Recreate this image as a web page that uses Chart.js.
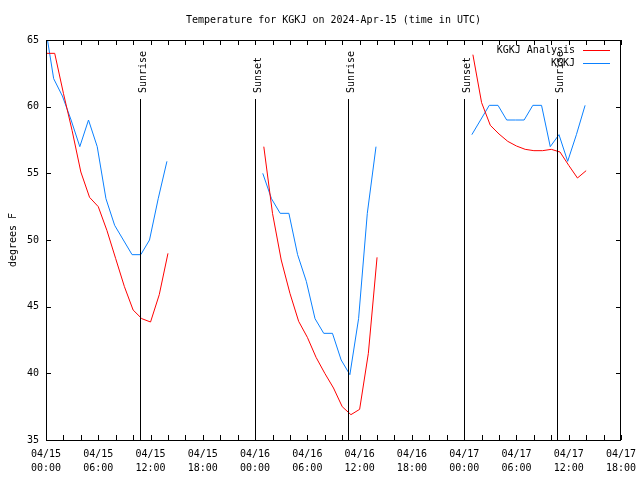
<!DOCTYPE html>
<html><head><meta charset="utf-8">
<script src="https://cdn.jsdelivr.net/npm/chart.js@4/dist/chart.umd.min.js"></script>
<style>html,body{margin:0;padding:0;background:#fff}</style>
</head><body>
<canvas id="c" width="640" height="480"></canvas>
<script>
const titleText = 'Temperature for KGKJ on 2024-Apr-15 (time in UTC)';
const yAxisTitle = 'degrees F';
const seriesNames = ['KGKJ Analysis', 'KGKJ'];
const seriesColors = ['#ff0000', '#0a80ff'];

// hours since 2024-04-15 00:00 UTC
const analysisHours = [0,1,2,3,4,5,6,7,8,9,10,11,12,13,14,
  25,26,27,28,29,30,31,32,33,34,35,36,37,38,
  49,50,51,52,53,54,55,56,57,58,59,60,61,62];
const analysisTemps = [64.0,64.0,61.0,58.2,55.1,53.2,52.5,50.7,48.6,46.5,44.75,44.1,43.85,45.9,49.0,
  57.0,52.0,48.5,46.0,43.9,42.7,41.2,40.0,38.9,37.5,36.9,37.3,41.5,48.7,
  63.9,60.3,58.6,57.95,57.4,57.05,56.8,56.7,56.7,56.8,56.6,55.6,54.65,55.2];

const obsHours = [-0.12,0.88,1.88,2.88,3.88,4.88,5.88,6.88,7.88,8.88,9.88,10.88,11.88,12.88,13.88,
  24.88,25.88,26.88,27.88,28.88,29.88,30.88,31.88,32.88,33.88,34.88,35.88,36.88,37.88,
  48.88,49.88,50.88,51.88,52.88,53.88,54.88,55.88,56.88,57.88,58.88,59.88,60.88,61.88];
const obsTemps = [66.2,62.1,60.8,59.0,57.0,59.0,57.0,53.1,51.1,50.0,48.9,48.9,50.0,53.1,55.9,
  55.0,53.1,52.0,52.0,48.9,46.9,44.1,43.0,43.0,41.0,39.9,44.1,52.0,57.0,
  57.9,59.0,60.1,60.1,59.0,59.0,59.0,60.1,60.1,57.0,57.9,55.9,57.9,60.1];

const tickDates = ['04/15','04/15','04/15','04/15','04/16','04/16','04/16','04/16','04/17','04/17','04/17','04/17'];
const tickTimes = ['00:00','06:00','12:00','18:00','00:00','06:00','12:00','18:00','00:00','06:00','12:00','18:00'];

const sunLabels = ['Sunrise','Sunset','Sunrise','Sunset','Sunrise'];
const sunHours = [10.78, 24.0, 34.72, 48.0, 58.68];

const FONT = "'DejaVu Sans Mono', 'Liberation Mono', monospace";

function buildPoints(hours, temps) {
  const pts = [];
  for (let i = 0; i < hours.length; i++) {
    if (i > 0 && hours[i] - hours[i-1] > 2) pts.push({x: (hours[i] + hours[i-1]) / 2, y: null});
    pts.push({x: hours[i], y: temps[i]});
  }
  return pts;
}

const framePlugin = {
  id: 'frame',
  afterDatasetsDraw(chart) {
    const {ctx, chartArea: a, scales: {x, y}} = chart;
    ctx.save();
    ctx.strokeStyle = '#000';
    ctx.lineWidth = 1;
    ctx.strokeRect(Math.round(a.left) + 0.5, Math.round(a.top) + 0.5,
      Math.round(a.right - a.left) - 1, Math.round(a.bottom - a.top));
    const tl = 5;
    ctx.beginPath();
    x.ticks.forEach(t => {
      const px = Math.round(x.getPixelForValue(t.value)) + 0.5;
      ctx.moveTo(px, a.bottom); ctx.lineTo(px, a.bottom - tl);
      ctx.moveTo(px, a.top); ctx.lineTo(px, a.top + tl);
    });
    y.ticks.forEach(t => {
      const py = Math.round(y.getPixelForValue(t.value)) + 0.5;
      ctx.moveTo(a.left, py); ctx.lineTo(a.left + tl, py);
      ctx.moveTo(a.right, py); ctx.lineTo(a.right - tl, py);
    });
    ctx.stroke();
    ctx.font = '10px ' + FONT;
    ctx.fillStyle = '#000';
    sunHours.forEach((h, i) => {
      const px = Math.round(x.getPixelForValue(h)) + 0.5;
      ctx.beginPath();
      ctx.moveTo(px, a.top + 59);
      ctx.lineTo(px, a.bottom);
      ctx.stroke();
      ctx.save();
      ctx.translate(px + 5, a.top + 53);
      ctx.rotate(-Math.PI / 2);
      ctx.textAlign = 'left';
      ctx.textBaseline = 'alphabetic';
      ctx.fillText(sunLabels[i], 0, 0);
      ctx.restore();
    });
    ctx.textAlign = 'right';
    ctx.textBaseline = 'middle';
    seriesNames.forEach((n, i) => {
      const ly = a.top + 10 + i * 13;
      ctx.fillStyle = '#000';
      ctx.fillText(n, a.right - 46, ly);
      ctx.strokeStyle = seriesColors[i];
      ctx.beginPath();
      ctx.moveTo(a.right - 38, Math.round(ly) + 0.5);
      ctx.lineTo(a.right - 11, Math.round(ly) + 0.5);
      ctx.stroke();
    });
    ctx.fillStyle = '#000';
    ctx.textAlign = 'center';
    ctx.textBaseline = 'middle';
    ctx.fillText(titleText, (a.left + a.right) / 2, 20);
    ctx.restore();
  }
};

new Chart(document.getElementById('c'), {
  type: 'line',
  data: {
    datasets: [
      {label: seriesNames[0], data: buildPoints(analysisHours, analysisTemps),
       borderColor: seriesColors[0], borderWidth: 1, pointRadius: 0, tension: 0, spanGaps: false},
      {label: seriesNames[1], data: buildPoints(obsHours, obsTemps),
       borderColor: seriesColors[1], borderWidth: 1, pointRadius: 0, tension: 0, spanGaps: false}
    ]
  },
  options: {
    responsive: false,
    animation: false,
    devicePixelRatio: 1,
    layout: {padding: {top: 40, right: 19, left: 0, bottom: 0}},
    plugins: {legend: {display: false}, title: {display: false}, tooltip: {enabled: false}},
    scales: {
      x: {
        type: 'linear', min: 0, max: 66,
        grid: {display: false, drawTicks: false},
        border: {display: false},
        ticks: {
          stepSize: 2, autoSkip: false, maxRotation: 0, minRotation: 0, padding: 7,
          color: '#000', font: {family: FONT, size: 10, lineHeight: 1.45},
          callback: (v) => (v % 6 === 0) ? [tickDates[v / 6], tickTimes[v / 6]] : ''
        },
        afterFit: (s) => { s.height = 40; s.paddingLeft = 0; s.paddingRight = 0; }
      },
      y: {
        min: 35, max: 65,
        grid: {display: false, drawTicks: false},
        border: {display: false},
        ticks: {stepSize: 5, padding: 7, color: '#000', font: {family: FONT, size: 10}},
        title: {display: true, text: yAxisTitle, color: '#000', font: {family: FONT, size: 10}, padding: {top: 7, bottom: 0}},
        afterFit: (s) => { s.width = 46; s.paddingTop = 0; s.paddingBottom = 0; }
      }
    }
  },
  plugins: [framePlugin]
});
</script>
</body></html>
